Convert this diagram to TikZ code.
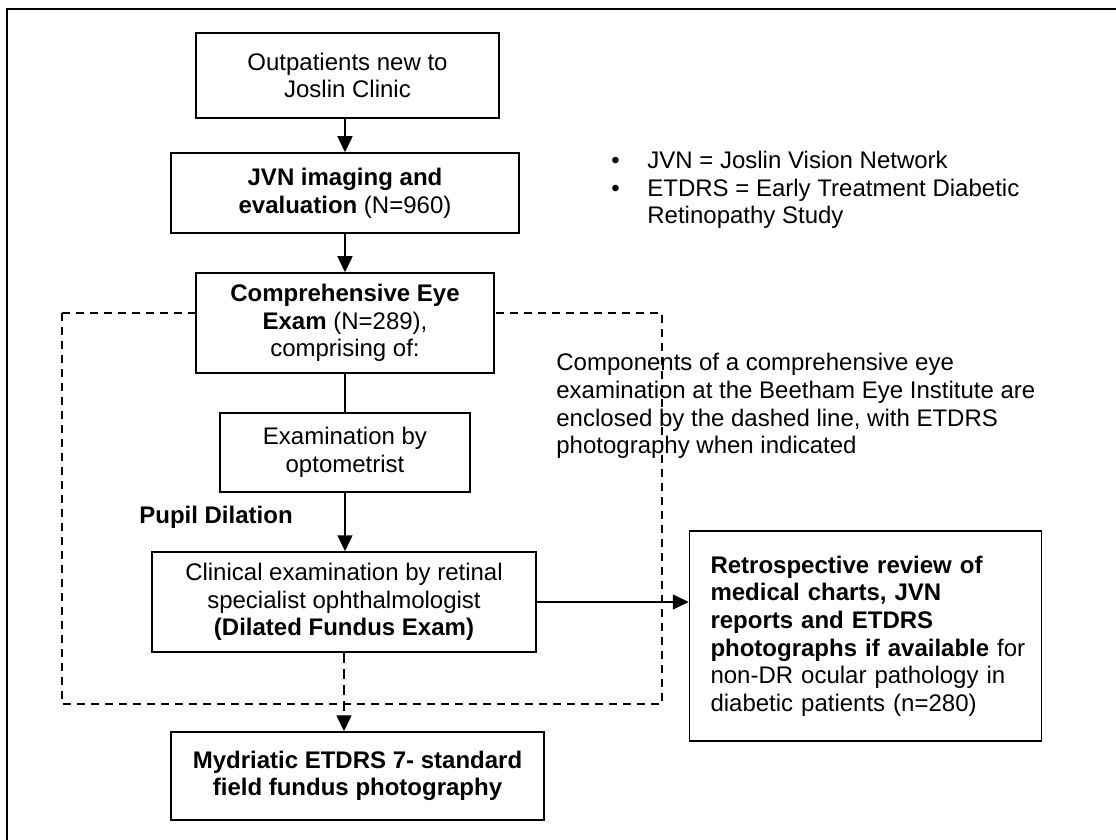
\documentclass[tikz,border=0pt]{standalone}
\usepackage{fontspec}
\setmainfont{Liberation Sans}
\usepackage{tikz}
\usetikzlibrary{arrows.meta, positioning, calc}

\begin{document}
\begin{tikzpicture}[
            x=0.5pt, y=-0.5pt,
            font=\fontsize{12pt}{13.8pt}\selectfont,
            flowbox/.style={
                rectangle, draw=black, line width=0.75pt, fill=white,
                align=center, inner sep=2pt
            },
            plaintext/.style={inner sep=0pt, align=left},
            flowarrow/.style={line width=0.75pt, -{Triangle[width=7.5pt,length=8pt]}},
            optarrow/.style={flowarrow, dash pattern=on 5pt off 3pt},
            enclosure/.style={line width=0.6pt, dash pattern=on 4pt off 3pt}
        ]
            \useasboundingbox (0,0) rectangle (1116,840);
            \draw[line width=0.75pt] (7,850) |- (1126,9);

            \node[plaintext, anchor=west] (legend) at (611,190) {
                \makebox[18pt][l]{\textbullet}JVN = Joslin Vision Network\\
                \makebox[18pt][l]{\textbullet}ETDRS = Early Treatment Diabetic\\
                \hspace*{18pt}Retinopathy Study
            };
            \node[plaintext, anchor=west] (note) at (556,406) {
                Components of a comprehensive eye\\
                examination at the Beetham Eye Institute are\\
                enclosed by the dashed line, with ETDRS\\
                photography when indicated
            };
            \draw[enclosure] (62,313) rectangle (662,704);

            \node[flowbox, minimum width=151.5pt, minimum height=42.5pt] (outpat) at (347.5,75.5) {
                Outpatients new to\\ Joslin Clinic
            };
            \node[flowbox, minimum width=174pt, minimum height=40pt] (jvn) at (345,193) {
                \textbf{JVN imaging and}\\ \textbf{evaluation} (N=960)
            };
            \node[flowbox, minimum width=149pt, minimum height=50pt] (compexam) at (345,323) {
                \textbf{Comprehensive Eye}\\ \textbf{Exam} (N=289),\\ comprising of:
            };
            \node[flowbox, minimum width=125pt, minimum height=39.5pt] (optom) at (345,452.5) {
                Examination by\\ optometrist
            };
            \node[plaintext] (dilation) at (216,517) {\textbf{Pupil Dilation}};
            \node[flowbox, minimum width=192pt, minimum height=50pt] (retinal) at (344,602) {
                Clinical examination by retinal\\ specialist ophthalmologist\\
                \textbf{(Dilated Fundus Exam)}
            };
            \node[flowbox, minimum width=186.5pt, minimum height=44pt] (etdrsphoto) at (357.5,776) {
                \textbf{Mydriatic ETDRS 7- standard}\\ \textbf{field fundus photography}
            };
            \node[flowbox, align=left, text width=155pt, inner xsep=10.5pt, minimum height=105pt] (review) at (865.5,636) {
                \textbf{Retrospective review of}\\
                \textbf{medical charts, JVN}\\
                \textbf{reports and ETDRS}\\
                \mbox{\textbf{photographs if available} for}\\
                non-DR ocular pathology in\\
                diabetic patients (n=280)
            };

            \draw[flowarrow] (outpat.south -| jvn.north) -- (jvn.north);
            \draw[flowarrow] (jvn.south) -- (compexam.north);
            \draw[line width=0.75pt] (compexam.south) -- (optom.north);
            \draw[flowarrow] (optom.south) -- (optom.south |- retinal.north);
            \draw[optarrow] (retinal.south) -- (retinal.south |- etdrsphoto.north);
            \draw[flowarrow] (retinal.east) -- (retinal.east -| review.west);
        \end{tikzpicture}
\end{document}
